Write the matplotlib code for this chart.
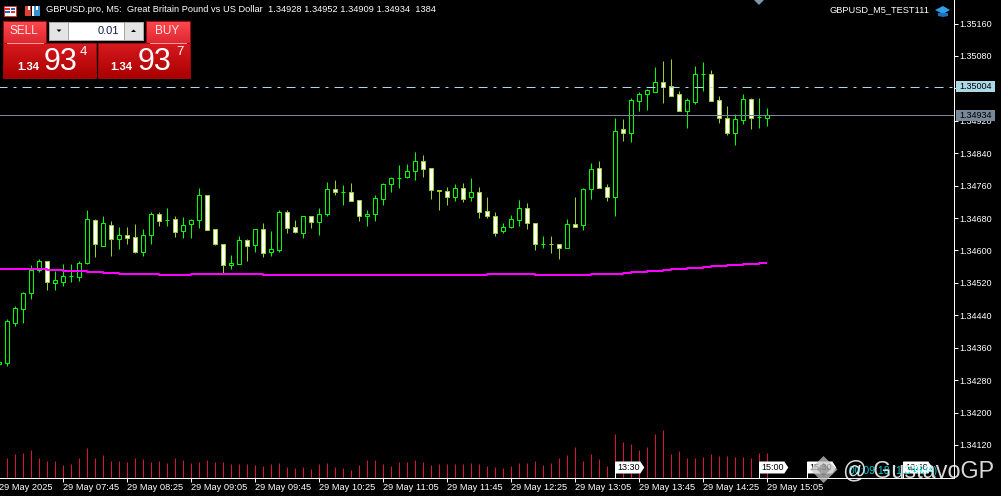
import numpy as np
import matplotlib
matplotlib.use("Agg")
import matplotlib.pyplot as plt
from matplotlib.patches import Rectangle, Polygon
from matplotlib.transforms import blended_transform_factory

# M5 bars, first one sits just off the left edge (bar index -1)
opens = [1.34320,
    1.34323,1.34422,1.34456,1.34494,1.34553,1.34573,1.34520,1.34523,1.34536,1.34535,
    1.34570,1.34674,1.34612,1.34664,1.34629,1.34637,1.34632,1.34597,1.34639,1.34689,
    1.34675,1.34677,1.34649,1.34666,1.34676,1.34736,1.34652,1.34615,1.34565,1.34567,
    1.34627,1.34614,1.34652,1.34597,1.34602,1.34696,1.34657,1.34644,1.34686,1.34671,
    1.34691,1.34751,1.34744,1.34744,1.34724,1.34684,1.34689,1.34728,1.34765,1.34780,
    1.34782,1.34797,1.34820,1.34803,1.34748,1.34746,1.34731,1.34754,1.34731,1.34744,
    1.34697,1.34685,1.34647,1.34657,1.34676,1.34704,1.34667,1.34617,1.34617,1.34616,
    1.34607,1.34665,1.34662,1.34751,1.34803,1.34756,1.34731,1.34899,1.34889,1.34970,
    1.34987,1.34992,1.35015,1.35005,1.34986,1.34943,1.34967,1.35035,1.35035,1.34971,
    1.34926,1.34889,1.34923,1.34973,1.34929,1.34928]
highs = [1.34326,
    1.34432,1.34464,1.34497,1.34564,1.34578,1.34573,1.34549,1.34566,1.34566,1.34573,
    1.34700,1.34677,1.34685,1.34672,1.34659,1.34657,1.34665,1.34652,1.34696,1.34694,
    1.34706,1.34686,1.34682,1.34677,1.34754,1.34738,1.34652,1.34615,1.34588,1.34635,
    1.34629,1.34654,1.34668,1.34647,1.34699,1.34699,1.34674,1.34686,1.34686,1.34704,
    1.34768,1.34773,1.34761,1.34766,1.34724,1.34700,1.34736,1.34766,1.34781,1.34810,
    1.34814,1.34843,1.34836,1.34803,1.34748,1.34756,1.34764,1.34766,1.34778,1.34756,
    1.34731,1.34694,1.34667,1.34687,1.34724,1.34717,1.34667,1.34635,1.34635,1.34616,
    1.34677,1.34732,1.34754,1.34816,1.34821,1.34763,1.34926,1.34924,1.34976,1.34990,
    1.34998,1.35052,1.35068,1.35073,1.34993,1.34976,1.35055,1.35065,1.35046,1.34981,
    1.34957,1.34936,1.34986,1.34976,1.34976,1.34952]
lows = [1.34312,
    1.34315,1.34414,1.34422,1.34481,1.34547,1.34503,1.34503,1.34513,1.34523,1.34525,
    1.34566,1.34585,1.34612,1.34587,1.34604,1.34616,1.34594,1.34587,1.34617,1.34661,
    1.34661,1.34634,1.34631,1.34631,1.34656,1.34651,1.34614,1.34543,1.34555,1.34567,
    1.34575,1.34597,1.34585,1.34587,1.34597,1.34644,1.34644,1.34631,1.34656,1.34639,
    1.34685,1.34738,1.34713,1.34721,1.34673,1.34661,1.34673,1.34713,1.34745,1.34753,
    1.34780,1.34774,1.34782,1.34727,1.34700,1.34713,1.34722,1.34720,1.34722,1.34680,
    1.34680,1.34636,1.34643,1.34656,1.34661,1.34653,1.34602,1.34606,1.34594,1.34579,
    1.34607,1.34657,1.34651,1.34727,1.34755,1.34722,1.34685,1.34870,1.34868,1.34944,
    1.34947,1.34992,1.34964,1.34982,1.34943,1.34902,1.34962,1.34994,1.34970,1.34915,
    1.34885,1.34861,1.34912,1.34900,1.34902,1.34907]
closes = [1.34324,
    1.34425,1.34457,1.34494,1.34553,1.34573,1.34523,1.34526,1.34536,1.34536,1.34568,
    1.34677,1.34615,1.34667,1.34629,1.34637,1.34631,1.34597,1.34637,1.34689,1.34673,
    1.34675,1.34646,1.34664,1.34674,1.34736,1.34651,1.34617,1.34565,1.34570,1.34627,
    1.34612,1.34652,1.34594,1.34603,1.34696,1.34656,1.34646,1.34686,1.34671,1.34691,
    1.34751,1.34745,1.34744,1.34723,1.34684,1.34690,1.34729,1.34764,1.34778,1.34780,
    1.34796,1.34820,1.34802,1.34748,1.34746,1.34731,1.34754,1.34728,1.34744,1.34696,
    1.34686,1.34644,1.34657,1.34677,1.34704,1.34667,1.34615,1.34617,1.34616,1.34605,
    1.34665,1.34659,1.34751,1.34800,1.34755,1.34733,1.34894,1.34891,1.34971,1.34986,
    1.34995,1.35015,1.35004,1.34982,1.34943,1.34971,1.35035,1.35035,1.34970,1.34926,
    1.34889,1.34924,1.34973,1.34926,1.34929,1.34934]
moving_avg = [1.34554]*6 + [1.34552]*2 + [1.34549]*3 + [1.34547]*2 + [1.34545]*2 + [1.34543]*5 \
    + [1.34540]*4 + [1.34543]*9 + [1.34540]*28 + [1.34543]*6 + [1.34540]*7 + [1.34543]*4 \
    + [1.34545] + [1.34547]*2 + [1.34550]*2 + [1.34552] + [1.34555]*2 + [1.34557]*2 + [1.34560] \
    + [1.34562]*2 + [1.34564]*2 + [1.34566]*2 + [1.34569]*2
volumes = [1045,
    1102,1330,1387,1558,1102,931,931,703,760,1102,
    1672,1102,1273,931,931,874,1102,1045,874,931,
    817,1102,988,817,874,988,874,874,760,760,
    760,703,646,760,817,589,532,589,475,760,
    817,589,532,418,703,988,988,760,646,874,
    874,988,874,703,760,760,760,760,817,760,
    646,589,532,646,817,817,931,703,817,1102,
    1273,1729,931,1330,1045,646,2470,2014,1900,1558,
    1729,2470,2698,1330,1501,1102,1102,1159,1330,1216,
    1216,1159,1159,1102,1387,1387]

price_ticks = [1.35160 - 0.0008*k for k in range(14)]
ask_line = 1.35004
bid_line = 1.34934
time_labels = ["07:45","08:25","09:05","09:45","10:25","11:05","11:45","12:25","13:05","13:45","14:25","15:05"]
time_ticks = list(range(7, 96, 8))
time_tags = [(76,"13:30"), (94,"15:00"), (100,"15:30"), (112,"16:30")]

UI_FONT = "Liberation Sans"
BULL = "#00ff00"
BEAR = "#9acd32"
PX = 0.72  # one pixel in points at dpi 100

plt.rcParams["font.family"] = [UI_FONT, "DejaVu Sans"]
plt.rcParams["lines.scale_dashes"] = False

fig = plt.figure(figsize=(10.01, 4.96), dpi=100, facecolor="black")
ax = fig.add_axes([0, 18.5/496, 953.5/1001, 477.5/496], facecolor="black")
ax.set_xlim(-0.9125, 118.275)
ax.set_ylim(1.340398, 1.35218)

# twinx resets the tick side, so it comes before tick_right
vol_ax = ax.twinx()
vol_ax.set_ylim(0, 27218)
vol_ax.axis("off")

bars = np.arange(-1, 96)
opens, highs, lows, closes = map(np.array, (opens, highs, lows, closes))
rising = closes >= opens
colors = [BULL if r else BEAR for r in rising]
fills = ["black" if r else "white" for r in rising]

vol_ax.vlines(bars, 0, volumes, colors="#dc143c", linewidth=PX).set_snap(True)
ax.vlines(bars, lows, highs, colors=colors, linewidth=PX, zorder=2).set_snap(True)
for x, o, c, col, f in zip(bars, opens, closes, colors, fills):
    ax.add_patch(Rectangle((x-0.25, min(o, c)), 0.5, abs(c-o), facecolor=f, edgecolor=col,
                           linewidth=PX, snap=True, zorder=3))
ax.step(bars, moving_avg, where="post", color="#ff00ff", linewidth=2*PX, zorder=4, solid_capstyle="butt")

# period 24 px: long dash, gap, short dash, gap
ax.plot([-1, 119], [ask_line, ask_line], color="#add8e6", linewidth=PX, zorder=5, snap=True,
        dash_capstyle="butt", linestyle=(0.7, (9*PX, 6*PX, 3*PX, 6*PX)))
ax.axhline(bid_line, color="#778899", linewidth=PX, zorder=5)

ax.yaxis.tick_right()
ax.set_yticks(price_ticks, [f"{p:.5f}" for p in price_ticks])
ax.set_xticks(time_ticks, [f"29 May {t}" for t in time_labels], ha="left")
ax.tick_params(axis="y", colors="white", length=3.5*PX, width=PX, pad=2, labelsize=6.5)
ax.tick_params(axis="x", colors="white", length=4*PX, width=PX, pad=0.8, labelsize=6.7)
for side in ["top", "left"]:
    ax.spines[side].set_visible(False)
for side in ["right", "bottom"]:
    ax.spines[side].set_color("white")
    ax.spines[side].set_linewidth(PX)

# overlay in pixel coordinates for the terminal's panels and labels
ui = fig.add_axes([0, 0, 1, 1], facecolor="none")
ui.set_xlim(0, 1001)
ui.set_ylim(496, 0)
ui.axis("off")
x_px_y_price = blended_transform_factory(ui.transData, ax.transData)

def label(x, y, s, size=6.7, color="white", ha="left", **kw):
    ui.text(x, y, s, fontsize=size, color=color, ha=ha, va="center", **kw)

def box(x0, y0, x1, y1, **kw):
    ui.add_patch(Rectangle((x0, y0), x1-x0, y1-y0, **kw))

def gradient(x0, y0, x1, y1, top, bottom):
    t = np.linspace(0, 1, 32)[:, None, None]
    img = (1-t)*np.array(top)[None, None, :] + t*np.array(bottom)[None, None, :]
    ui.imshow(img/255, extent=(x0, x1, y1, y0), aspect="auto", zorder=1)
    box(x0, y0, x1, y1, facecolor="none", edgecolor="#a00808", linewidth=PX, zorder=1.5)

# header
label(46, 10, "GBPUSD.pro, M5:  Great Britain Pound vs US Dollar  1.34928 1.34952 1.34909 1.34934  1384")
label(930, 10, "GBPUSD_M5_TEST111", ha="right")
box(4, 6, 16, 16, facecolor="white", edgecolor="#e03020", linewidth=PX)
box(5, 8, 10, 10, facecolor="#e03020", edgecolor="none")
box(10.5, 8, 15, 10, facecolor="#2060d0", edgecolor="none")
box(5, 11, 10, 13, facecolor="#2060d0", edgecolor="none")
box(10.5, 11, 15, 13, facecolor="#e03020", edgecolor="none")
box(25, 6, 31, 16, facecolor="#e04030", edgecolor="none")
box(32, 6, 34, 16, facecolor="white", edgecolor="none")
box(34, 6, 40, 16, facecolor="#3090d0", edgecolor="none")
box(28, 6, 30, 10, facecolor="white", edgecolor="none")
box(36, 6, 38, 10, facecolor="white", edgecolor="none")

# hat icon
ui.add_patch(Polygon([(935, 10), (943, 6), (950, 10), (943, 14)], facecolor="#2f9fe8", edgecolor="none"))
ui.add_patch(Polygon([(938, 13), (948, 13), (948, 16), (943, 17), (938, 16)], facecolor="#1d6fb8", edgecolor="none"))

# one-click panel
gradient(3, 21, 46, 43, (255, 72, 78), (222, 40, 50))
gradient(146, 21, 190, 43, (255, 72, 78), (222, 40, 50))
gradient(3, 43, 96, 78, (214, 26, 32), (170, 0, 0))
gradient(98, 43, 190, 78, (214, 26, 32), (170, 0, 0))
ui.plot([7, 43], [42.5, 42.5], color="#ff9a90", linewidth=PX, zorder=2)
ui.plot([150, 186], [42.5, 42.5], color="#ff9a90", linewidth=PX, zorder=2)
label(24, 31.5, "SELL", size=8.5, color="#ffe6e6", ha="center", zorder=3)
label(167.5, 31.5, "BUY", size=8.5, color="#ffe6e6", ha="center", zorder=3)
box(49, 21.5, 144, 41, facecolor="#a8a8a8", edgecolor="none", zorder=1)
box(50, 23, 68, 40, facecolor="#e4e4e4", edgecolor="none", zorder=2)
box(69, 23, 124, 40, facecolor="white", edgecolor="none", zorder=2)
box(125, 23, 143, 40, facecolor="#e4e4e4", edgecolor="none", zorder=2)
ui.add_patch(Polygon([(56.5, 29.5), (61.5, 29.5), (59, 32)], facecolor="black", edgecolor="none", zorder=3))
ui.add_patch(Polygon([(131, 32), (136, 32), (133.5, 29.5)], facecolor="black", edgecolor="none", zorder=3))
label(119.5, 31.5, "0.01", size=8, color="#102050", ha="right", zorder=3)
for x_small, x_big, x_tiny, tiny in [(17, 43.5, 80, "4"), (110, 137.5, 176, "7")]:
    label(x_small, 67.5, "1.34", size=8.2, weight="bold", zorder=3)
    label(x_big, 62.5, "93", size=22, zorder=3)
    label(x_tiny, 52, tiny, size=9.5, zorder=3)

# top marker
ui.add_patch(Polygon(list(zip([754, 764, 759], [0, 0, 5])), facecolor="#7f97a8", edgecolor="none"))

# price tags on the axis
for price, col in [(ask_line, "#add8e6"), (bid_line, "#778899")]:
    ui.add_patch(Rectangle((956, price-0.000135), 39, 0.00027, facecolor=col, edgecolor="none",
                           transform=x_px_y_price, zorder=3))
    ui.text(975.5, price, f"{price:.5f}", fontsize=6.5, color="black", ha="center", va="center",
            transform=x_px_y_price, zorder=4)

# time tags sitting on the axis
label(-1, 487, "29 May 2025")
for bar, txt in time_tags:
    x0 = 7.3 + 8*bar
    ui.add_patch(Polygon([(x0, 461.5), (x0+25, 461.5), (x0+29, 467.5), (x0+25, 473.5), (x0, 473.5)],
                         facecolor="white", edgecolor="none", zorder=3))
    ui.plot([x0, x0], [461.5, 477.5], color="white", linewidth=PX, zorder=3)
    label(x0+2, 467.5, txt, size=6.5, color="black", zorder=4)

# countdown and watermark over everything
ui.add_patch(Polygon([(823.5, 456), (837.5, 469.5), (823.5, 483), (810, 469.5)], facecolor="#c8c8c8",
                     edgecolor="none", alpha=0.75, zorder=5))
ui.add_patch(Polygon([(823.5, 463), (830.5, 469.5), (823.5, 476), (817, 469.5)], facecolor="#666666",
                     edgecolor="none", alpha=0.45, zorder=5))
label(849, 470.5, "00:09:18 (1.34934)", size=7.5, color="#00ced1", zorder=5)
label(843, 470.5, "@ GustavoGP", size=16.8, color="white", alpha=0.85, zorder=6)

fig.savefig("out.png", dpi=100, facecolor="black")
